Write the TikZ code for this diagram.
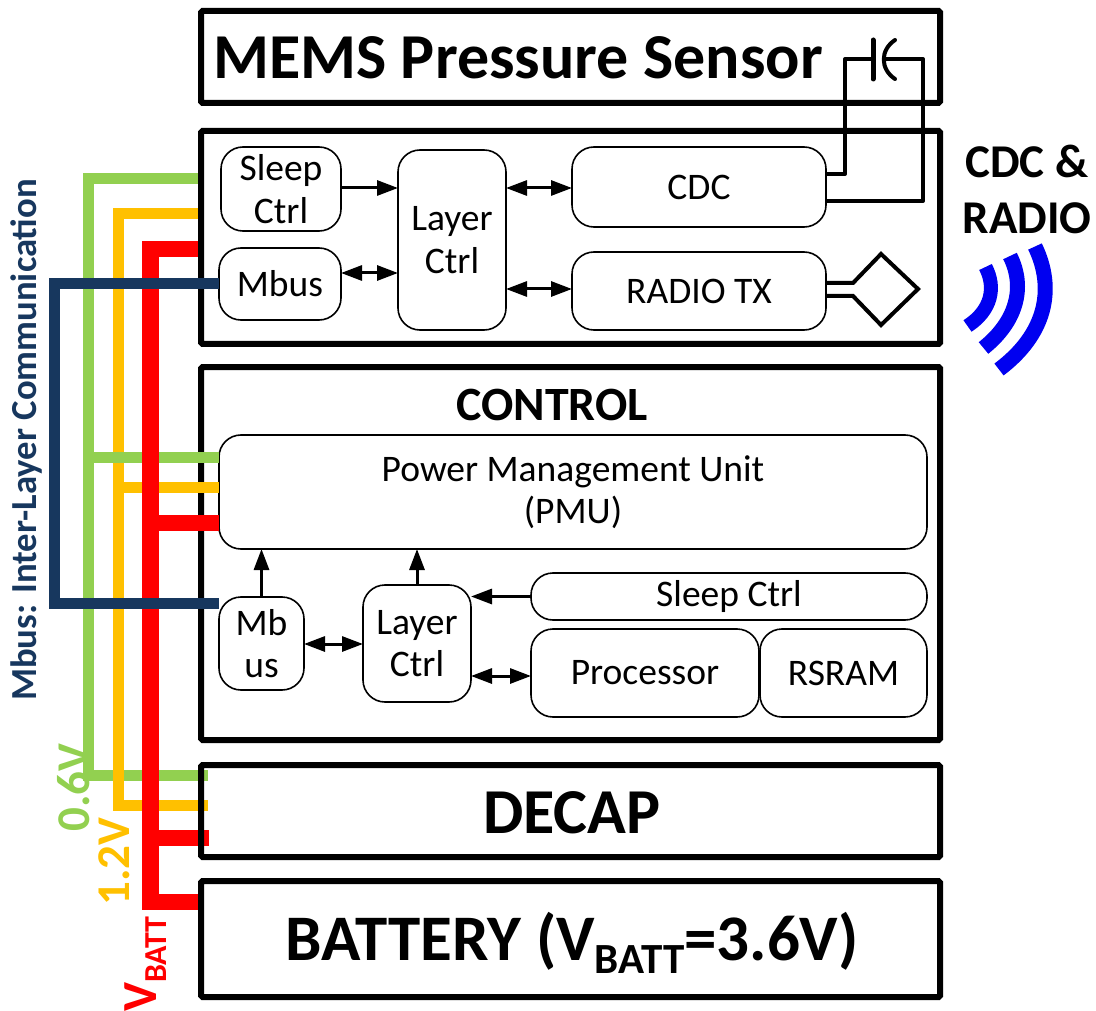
\documentclass[tikz,border=0pt]{standalone}
\usepackage{fontspec}
\setmainfont{Carlito}
\usetikzlibrary{backgrounds,positioning,arrows.meta,calc}
\newcommand{\fsz}[1]{\fontsize{#1}{#1}\selectfont}
\begin{document}
\begin{tikzpicture}[
  x=1pt, y=-1pt,
  layerbox/.style={draw=black, line width=6pt, rounded corners=1.5pt, inner sep=0pt, outer sep=0pt},
  blockbox/.style={draw=black, line width=1.6pt, rounded corners=22pt, inner sep=0pt, outer sep=0pt,
            align=center, font=\fsz{37.5}},
  title/.style={font=\fsz{64}\bfseries, inner sep=0pt},
  link/.style={line width=3pt, draw=black, {Triangle[length=21pt,width=15pt]}-{Triangle[length=21pt,width=15pt]}},
  linkone/.style={line width=3pt, draw=black, -{Triangle[length=21pt,width=15pt]}},
  wire/.style={line width=4pt, draw=black, line join=round, line cap=round},
  railg/.style={line width=11pt, draw=railgreen},
  raily/.style={line width=11pt, draw=railyellow},
  railr/.style={line width=16.5pt, draw=red},
  railn/.style={line width=11pt, draw=railnavy},
  wave/.style={line width=15pt, draw=wavblue}
]
\definecolor{railgreen}{HTML}{92D050}
\definecolor{railyellow}{HTML}{FFC000}
\definecolor{railnavy}{HTML}{17375E}
\definecolor{wavblue}{HTML}{0000F0}
\useasboundingbox (0,0) rectangle (1096,1011);

% Layers
\node[layerbox, minimum width=739pt, minimum height=92pt]  (memsbox)  at (570.5,57) {};
\node[layerbox, minimum width=739pt, minimum height=213pt] (cdcbox)   at (570.5,237.5) {};
\node[layerbox, minimum width=739pt, minimum height=373pt] (ctrlbox)  at (570.5,553.5) {};
\node[layerbox, minimum width=739pt, minimum height=92pt]  (decapbox) at (570.5,811) {};
\node[layerbox, minimum width=739pt, minimum height=116pt] (battbox)  at (570.5,939) {};

\node[title] (memstext) at (518,58) {MEMS Pressure Sensor};
\node[title, font=\fsz{47.8}\bfseries] (ctrltext) at (552,405) {CONTROL};
\node[title, font=\fsz{64}\bfseries] (decaptext) at (572,813) {DECAP};
\node[title, font=\fsz{65}\bfseries] (batttext) at (572,943)
  {BATTERY (V\raisebox{-0.2em}{\fsz{43}BATT}=3.6V)};
\node[title, font=\fsz{47}\bfseries, align=center] (cdcradio) at (1027,189)
  {CDC \&\\[9pt]RADIO};

% CDC and radio layer
\node[blockbox, minimum width=120pt, minimum height=84pt]  (sleepa) at (281,189) {Sleep\\[5pt]Ctrl};
\node[blockbox, minimum width=122pt, minimum height=72pt]  (mbusa)  at (280,284) {Mbus};
\node[blockbox, minimum width=108pt, minimum height=180pt] (layera) at (452,240) {Layer\\[6pt]Ctrl};
\node[blockbox, minimum width=254pt, minimum height=80pt]  (cdc)    at (699,187) {CDC};
\node[blockbox, minimum width=254pt, minimum height=78pt]  (radio)  at (699,291) {RADIO TX};

% Control layer
\node[blockbox, minimum width=708pt, minimum height=114pt] (pmu)    at (573,492) {Power Management Unit\\[5pt](PMU)};
\node[blockbox, minimum width=85pt, minimum height=93pt]   (mbusb)  at (261.5,643.5) {Mb\\[5pt]us};
\node[blockbox, minimum width=108pt, minimum height=117pt] (layerb) at (417,643.5) {Layer\\[5pt]Ctrl};
\node[blockbox, minimum width=396pt, minimum height=47pt]  (sleepb) at (729,596.5) {Sleep Ctrl};
\node[blockbox, minimum width=228pt, minimum height=88pt]  (proc)   at (645,673) {Processor};
\node[blockbox, minimum width=167pt, minimum height=88pt]  (rsram)  at (843.5,673) {RSRAM};

% Supply rails and Mbus
\coordinate (gtop) at (88.5,178.5);
\coordinate (gpmu) at (88.5,457.5);
\coordinate (gbot) at (88.5,775.5);
\coordinate (gend) at (208,775.5);
\coordinate (ytop) at (118.5,213.5);
\coordinate (ypmu) at (118.5,487.5);
\coordinate (ybot) at (118.5,805.5);
\coordinate (yend) at (208,805.5);
\coordinate (rtop) at (150.5,249);
\coordinate (rpmu) at (150.5,523);
\coordinate (rdec) at (150.5,838);
\coordinate (rend) at (209,838);
\coordinate (rbot) at (150.5,902);
\coordinate (ntop) at (54.5,283.5);
\coordinate (nbot) at (54.5,603.5);
\begin{pgfonlayer}{background}
  \draw[railg] (cdcbox.west |- gtop) -- (gtop) -- (gbot) -- (gend);
  \draw[raily] (cdcbox.west |- ytop) -- (ytop) -- (ybot) -- (yend);
  \draw[railr] (cdcbox.west |- rtop) -- (rtop) -- (rbot) -- (battbox.west |- rbot);
  \draw[railr] (rdec) -- (rend);
\end{pgfonlayer}
\draw[railg] (gpmu) -- (pmu.west |- gpmu);
\draw[raily] (ypmu) -- (pmu.west |- ypmu);
\draw[railr] (rpmu) -- (pmu.west |- rpmu);
\draw[railr] (rtop) -- (rbot);
\draw[railn] (mbusa.west |- ntop) -- (ntop) -- (nbot) -- (mbusb.west |- nbot);

% Block links
\draw[linkone] (sleepa.east |- 0,188) -- (layera.west |- 0,188);
\draw[link] (mbusa.east |- 0,273) -- (layera.west |- 0,273);
\draw[link] (layera.east |- 0,188) -- (cdc.west |- 0,188);
\draw[link] (layera.east |- 0,289) -- (radio.west |- 0,289);
\draw[linkone] (mbusb.north) -- (mbusb.north |- pmu.south);
\draw[linkone] (layerb.north) -- (layerb.north |- pmu.south);
\draw[linkone] (sleepb.west) -- (layerb.east |- sleepb.west);
\draw[link] (mbusb.east |- 0,644) -- (layerb.west |- 0,644);
\draw[link] (layerb.east |- 0,676) -- (proc.west |- 0,676);

% Capacitor
\coordinate (capl) at (873,59);
\coordinate (capr) at (884,59);
\coordinate (capla) at (873,40);
\coordinate (caplb) at (873,79);
\coordinate (capra) at (895,40);
\coordinate (caprb) at (895,79);
\draw[wire, line cap=butt] (cdc.east |- 0,174) -| (845,59) -- (capl);
\draw[wire, line cap=butt] (cdc.east |- 0,201) -| (923,59) -- (capr);
\draw[wire, line width=5pt] (capla) -- (caplb);
\draw[wire] (capra) .. controls (880,50) and (880,69) .. (caprb);

% Antenna
\coordinate (antu) at (853,283);
\coordinate (antd) at (853,296);
\draw[wire, miter limit=4, line cap=butt, line join=miter] (radio.east |- antu) -- (antu) -- (881,254) -- (918,289) -- (881,325) -- (antd) -- (radio.east |- antd);

% Radio waves
\draw[wave, line width=14pt] (985.5,267) .. controls (996,287) and (992,310) .. (967.5,326);
\draw[wave] (1010,256) .. controls (1026,288) and (1016,322) .. (983.5,348);
\draw[wave] (1035,246.5) .. controls (1056,290) and (1045,335) .. (999,369.5);

% Rail labels
\node[rotate=90, font=\fsz{36.7}\bfseries, text=railnavy, inner sep=0pt] (mbuslabel) at (26,440) {Mbus: Inter-Layer Communication};
\node[rotate=90, anchor=west, font=\fsz{47}\bfseries, text=railgreen, inner sep=0pt] (lowv) at (74,832) {0.6V};
\node[rotate=90, anchor=west, font=\fsz{47}\bfseries, text=railyellow, inner sep=0pt] (midv) at (114,906) {1.2V};
\node[rotate=90, anchor=west, font=\fsz{49}\bfseries, text=red, inner sep=0pt] (battv) at (146,1012)
  {V\raisebox{-0.2em}{\fsz{32}BATT}};
\end{tikzpicture}
\end{document}
